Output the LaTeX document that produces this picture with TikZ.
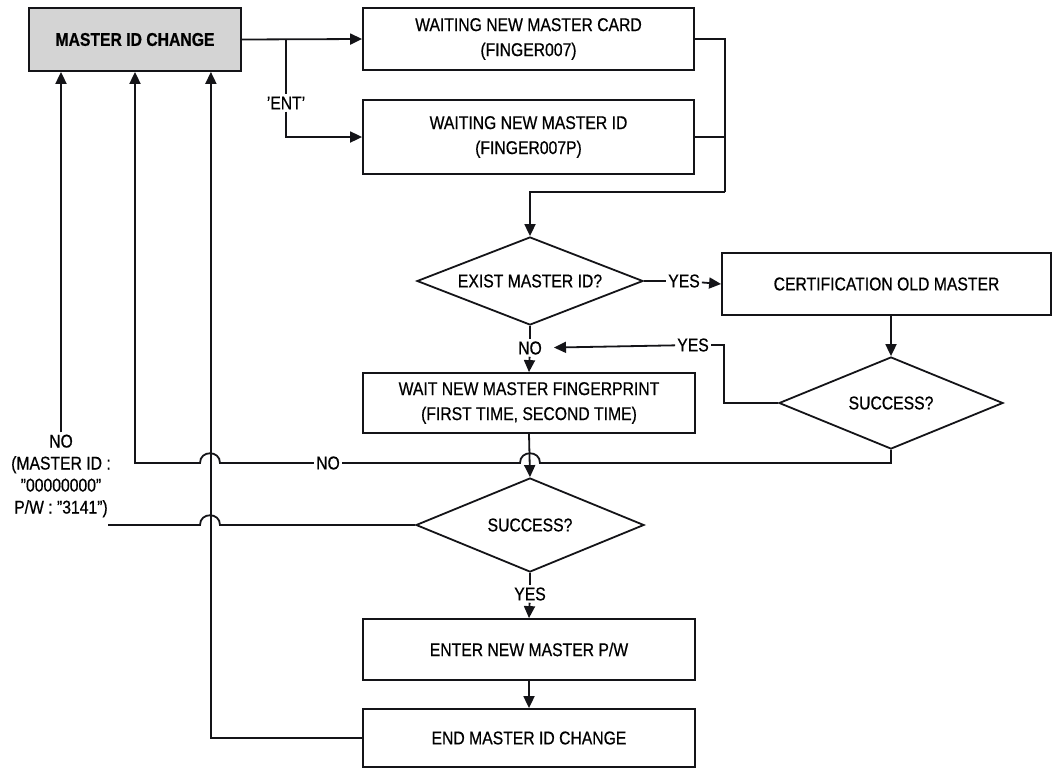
\documentclass[tikz,border=0pt]{standalone}
\usepackage{fontspec}
\setmainfont{Liberation Sans}[FakeStretch=0.85,FakeBold=0.6]
\usetikzlibrary{arrows.meta,shapes.geometric}
\definecolor{ink}{HTML}{141418}
\newcommand\flowfont{\fontsize{18.5}{25}\selectfont}
\begin{document}
\begin{tikzpicture}[x=1pt,y=-1pt,
  every node/.style={font=\flowfont, text=black},
  line/.style={line width=1.8pt, draw=ink},
  arr/.style={line, -{Triangle[length=12pt,width=11pt]}},
  box/.style={draw=ink, line width=1.8pt, align=center, inner sep=0pt},
  dia/.style={draw=ink, line width=1.8pt, diamond, aspect=2.5, inner sep=0pt},
  lbl/.style={fill=white, inner sep=2pt}]
\useasboundingbox[fill=white] (0,0) rectangle (1055,769);

% process boxes
\node[box, fill=black!17, minimum width=212pt, minimum height=63pt,
      font=\flowfont\bfseries] (mic) at (135,39.5) {MASTER ID CHANGE};
\node[box, minimum width=331pt, minimum height=62pt] (b1) at (528.5,39)
  {WAITING NEW MASTER CARD\\(FINGER007)};
\node[box, minimum width=331pt, minimum height=74pt] (b2) at (528.5,137)
  {WAITING NEW MASTER ID\\(FINGER007P)};
\node[box, minimum width=329pt, minimum height=62pt] (cert) at (886.5,284)
  {CERTIFICATION OLD MASTER};
\node[box, minimum width=332pt, minimum height=60pt] (wait) at (529,403)
  {WAIT NEW MASTER FINGERPRINT\\(FIRST TIME, SECOND TIME)};
\node[box, minimum width=332pt, minimum height=61pt] (enter) at (529,649.5)
  {ENTER NEW MASTER P/W};
\node[box, minimum width=332pt, minimum height=58pt] (end) at (529,738)
  {END MASTER ID CHANGE};

% decisions
\node[dia, minimum width=226pt, minimum height=88pt] (d1) at (530,281) {EXIST MASTER ID?};
\node[dia, minimum width=224pt, minimum height=92pt] (d2) at (891,403) {SUCCESS?};
\node[dia, minimum width=228pt, minimum height=94pt] (d3) at (530,525) {SUCCESS?};

% labels
\node[lbl] (ent) at (286,103) {\char39 ENT\char39};
\node[lbl] (yes1) at (684,281) {YES};
\node[lbl] (yes2) at (693,345) {YES};
\node[lbl] (no1) at (530,348) {NO};
\node[lbl] (yes3) at (530,594) {YES};
\node[align=center, inner sep=2pt, font=\fontsize{18.5}{22}\selectfont] (nolab) at (61,476)
  {NO\\(MASTER ID :\\\char34 00000000\char34\\P/W : \char34 3141\char34)};

\coordinate (br) at (286,39);
\coordinate (rj) at (725,192);
\coordinate (lend) at (108,525);

% top section
\draw[arr] (mic.east) -- (b1.west);
\draw[line] (br) -- (ent);
\draw[arr] (ent) |- (b2.west);
\draw[line] (b1.east) -| (rj);
\draw[line] (b2.east) -- (b2.east -| rj);
\draw[arr] (rj) -| (d1.north);

% existing master branch
\draw[line] (d1.east) -- (yes1);
\draw[arr] (yes1) -- (cert.west);
\draw[arr] (cert.south -| d2.north) -- (d2.north);
\draw[line] (d2.west) -- ++(-54,0) |- (yes2.east);
\draw[arr, shorten >=10pt] (yes2) -- (no1);
\draw[line] (d1.south) -- (no1);
\draw[arr] (no1) -- (wait.north);

% main column
\draw[arr] (wait.south) -- (d3.north);
\draw[line] (d3.south) -- (yes3);
\draw[arr] (yes3) -- (enter.north);
\draw[arr] (enter) -- (end);

% returns to the start box
\draw[arr] (end.west) -| ([xshift=-31pt]mic.south east);
\draw[arr] (d2.south) -- (d2.south |- 0,463) -- (540,463)
  .. controls (540,450) and (520,450) .. (520,463) -- (220,463)
  .. controls (220,450) and (200,450) .. (200,463) -- (mic.south |- 0,463) -- (mic.south);
\node[lbl] (no2) at (328,463) {NO};
\draw[line] (d3.west) -- (220,525)
  .. controls (220,512) and (200,512) .. (200,525) -- (lend);
\draw[arr] (nolab.north) -- (nolab.north |- mic.south);
\end{tikzpicture}
\end{document}
